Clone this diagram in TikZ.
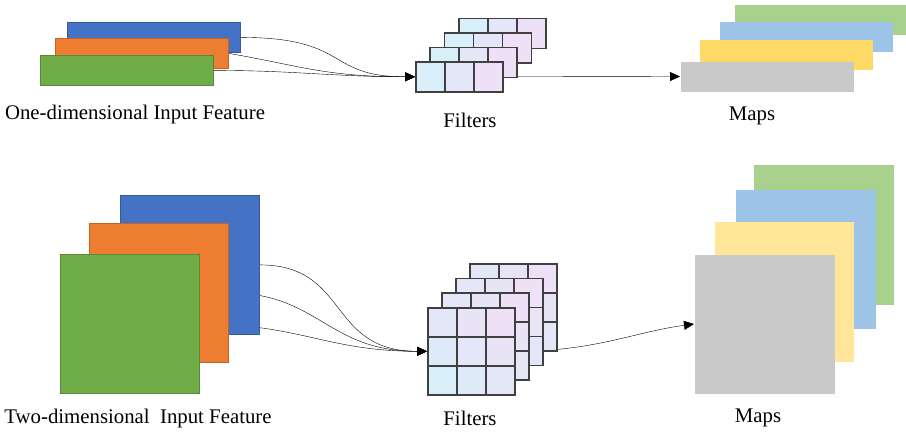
\documentclass[tikz,border=0pt]{standalone}
\usepackage{fontspec}
\setmainfont{Liberation Serif}
\usetikzlibrary{arrows.meta,backgrounds}
\definecolor{inBlue}{HTML}{4472C4}
\definecolor{inOrange}{HTML}{ED7D31}
\definecolor{inGreen}{HTML}{70AD47}
\definecolor{mapGreen}{HTML}{A9D18E}
\definecolor{mapBlue}{HTML}{9DC3E6}
\definecolor{mapYellow}{HTML}{FFD966}
\definecolor{mapPale}{HTML}{FFE699}
\definecolor{mapGray}{HTML}{C9C9C9}
\definecolor{cellCyan}{HTML}{D8EEF8}
\definecolor{cellLilac}{HTML}{EEE0F6}
\definecolor{gridLine}{HTML}{404040}

\begin{document}
\begin{tikzpicture}[x=1pt,y=-1pt,>={Triangle[length=10pt,width=9pt]},line width=1pt,
                    font=\fontsize{20.8}{25}\selectfont]
  \tikzstyle{feat}=[inner sep=0pt,anchor=north west,line width=0.8pt]
  \tikzstyle{map}=[inner sep=0pt,anchor=north west]
  \tikzstyle{layer}=[draw=gridLine,line width=1.6pt,inner sep=0pt,anchor=north west,minimum width=87pt]
  \tikzstyle{cell}=[draw=gridLine,line width=1.6pt,inner sep=0pt,anchor=north west,minimum width=29pt]
  \tikzstyle{wire}=[->,draw=black]
  \useasboundingbox (0,0) rectangle (906,439);

  % one-dimensional input
  \node[feat,fill=inBlue,draw=inBlue!80!black,minimum width=173pt,minimum height=30pt]     (ia1) at (67,22) {};
  \node[feat,fill=inOrange,draw=inOrange!80!black,minimum width=173pt,minimum height=30pt] (ia2) at (55,38) {};
  \node[feat,fill=inGreen,draw=inGreen!80!black,minimum width=173pt,minimum height=30pt]   (ia3) at (40,55) {};

  % one-dimensional filters
  \foreach \l in {3,2,1,0}{
    \node[layer,minimum height=30pt] (fa\l) at ({415+14.3*\l},{61-14.5*\l}) {};
    \foreach \c in {0,1,2}{
      \pgfmathtruncatemacro\p{50*\c}
      \node[cell,minimum height=30pt,fill=cellLilac!\p!cellCyan] (fa\l-\c) at ({415+14.3*\l+29*\c},{61-14.5*\l}) {};
    }
  }

  % one-dimensional maps
  \node[map,fill=mapGreen,minimum width=173pt,minimum height=30pt]  (ma3) at (734,4) {};
  \node[map,fill=mapBlue,minimum width=173pt,minimum height=30pt]   (ma2) at (719,21) {};
  \node[map,fill=mapYellow,minimum width=173pt,minimum height=30pt] (ma1) at (699,39) {};
  \node[map,fill=mapGray,minimum width=173pt,minimum height=30pt]   (ma0) at (680,61) {};

  % two-dimensional input
  \node[feat,fill=inBlue,draw=inBlue!80!black,minimum width=139pt,minimum height=139pt]     (ib1) at (120,195) {};
  \node[feat,fill=inOrange,draw=inOrange!80!black,minimum width=139pt,minimum height=139pt] (ib2) at (89,223) {};
  \node[feat,fill=inGreen,draw=inGreen!80!black,minimum width=139pt,minimum height=139pt]   (ib3) at (60,254) {};

  % two-dimensional filters
  \foreach \l in {3,2,1,0}{
    \node[layer,minimum height=87pt] (fb\l) at ({427+14*\l},{307-14.7*\l}) {};
    \foreach \r in {0,1,2}
      \foreach \c in {0,1,2}{
        \pgfmathtruncatemacro\p{25*(\c+2-\r)}
        \node[cell,minimum height=29pt,fill=cellLilac!\p!cellCyan] (fb\l-\r\c) at ({427+14*\l+29*\c},{307-14.7*\l+29*\r}) {};
      }
  }

  % two-dimensional maps
  \node[map,fill=mapGreen,minimum width=140pt,minimum height=140pt] (mb3) at (753,164) {};
  \node[map,fill=mapBlue,minimum width=140pt,minimum height=139pt]  (mb2) at (735,189) {};
  \node[map,fill=mapPale,minimum width=139pt,minimum height=140pt]  (mb1) at (714,221) {};
  \node[map,fill=mapGray,minimum width=140pt,minimum height=139pt]  (mb0) at (694,254) {};

  % labels
  \node (ta) at (135,114) {One-dimensional Input Feature};
  \node (tf) at (470,120) {Filters};
  \node (tm) at (752,116) {Maps};
  \node (ba) at (138,418) {Two-dimensional\ \ Input Feature};
  \node (bf) at (470,418) {Filters};
  \node (bm) at (758,418) {Maps};

  \begin{scope}[on background layer]
    \draw[wire] (ia1.east) .. controls +(110,0) and +(-90,0) .. (fa0.west);
    \draw[wire] (ia2.east) .. controls +(70,12) and +(-90,0) .. (fa0.west);
    \draw[wire] (ia3.east) .. controls +(80,0) and +(-80,0) .. (fa0.west);
    \draw[wire] (fa0.east) -- (ma0.west);
    \draw[wire] (ib1.east) .. controls +(90,0) and +(-100,0) .. (fb0.west);
    \draw[wire] (ib2.east) .. controls +(90,0) and +(-100,0) .. (fb0.west);
    \draw[wire] (ib3.east) .. controls +(100,0) and +(-100,0) .. (fb0.west);
    \draw[wire] (fb0.east) .. controls +(80,0) and +(-60,8) .. (mb0.west);
  \end{scope}
\end{tikzpicture}
\end{document}
